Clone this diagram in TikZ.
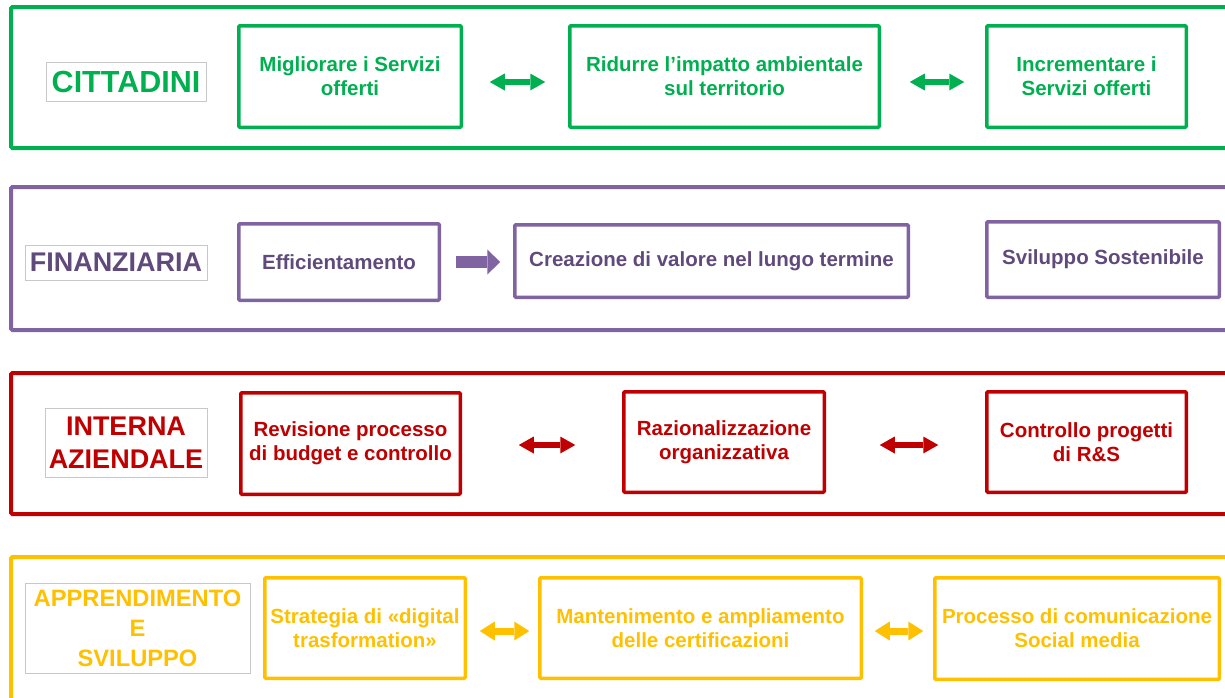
\documentclass[tikz,border=0pt]{standalone}
\usepackage{fontspec}
\setmainfont{Liberation Sans}
\usetikzlibrary{arrows.meta}
\definecolor{cgreen}{HTML}{00B050}
\definecolor{cpurple}{HTML}{8064A2}
\definecolor{cpurpletxt}{HTML}{604A7B}
\definecolor{cred}{HTML}{C00000}
\definecolor{cyellow}{HTML}{FFC000}
\definecolor{lgray}{HTML}{C8C8C8}
\begin{document}
\begin{tikzpicture}[x=1pt,y=-1pt,
  band/.style={line width=4pt, rounded corners=1.5pt},
  box/.style={draw, line width=3.5pt, rounded corners=1pt, align=center, inner sep=0pt,
    font=\bfseries\fontsize{20.5}{24}\selectfont},
  lbl/.style={draw=lgray, line width=0.9pt, align=center, inner sep=0pt},
  dblarrow/.style={line width=6pt,
    {Triangle[width=17pt,length=15pt,line width=0pt]}-{Triangle[width=17pt,length=15pt,line width=0pt]}},
  dblarrowy/.style={line width=7pt,
    {Triangle[width=19pt,length=15pt,line width=0pt]}-{Triangle[width=19pt,length=15pt,line width=0pt]}},
  blockarrow/.style={line width=12pt, -{Triangle[width=25pt,length=13pt,line width=0pt]}}
]
\useasboundingbox (0,0) rectangle (1225,697);
\clip (0,0) rectangle (1225,697);

% bands
\draw[band, cgreen] (11,7) rectangle (1240,148);
\draw[band, cpurple] (11,187) rectangle (1240,330);
\draw[band, cred] (11,373) rectangle (1240,514);
\draw[band, cyellow] (11,557) rectangle (1240,720);

% labels
\node[lbl, minimum width=160pt, minimum height=39pt, text=cgreen,
  font=\bfseries\fontsize{30.5}{33}\selectfont] (l1) at (126,81.5) {CITTADINI};
\node[lbl, minimum width=182pt, minimum height=35pt, text=cpurpletxt,
  font=\bfseries\fontsize{27}{30}\selectfont] (l2) at (116,262.5) {FINANZIARIA};
\node[lbl, minimum width=162pt, minimum height=69pt, text=cred,
  font=\bfseries\fontsize{27}{33}\selectfont] (l3) at (126,442.5) {INTERNA\\AZIENDALE};
\node[lbl, minimum width=225pt, minimum height=90pt, text=cyellow,
  font=\bfseries\fontsize{23.7}{30}\selectfont] (l4) at (137.5,628) {APPRENDIMENTO\\E\\SVILUPPO};

% row 1
\node[box, draw=cgreen, text=cgreen, minimum width=222.5pt, minimum height=101.5pt] (a1) at (350,76.5) {Migliorare i Servizi\\offerti};
\node[box, draw=cgreen, text=cgreen, minimum width=309.5pt, minimum height=101.5pt] (b1) at (724.5,76.5) {Ridurre l’impatto ambientale\\sul territorio};
\node[box, draw=cgreen, text=cgreen, minimum width=199.5pt, minimum height=101.5pt] (c1) at (1086.5,76.5) {Incrementare i\\Servizi offerti};

% row 2
\node[box, draw=cpurple, text=cpurpletxt, minimum width=200.5pt, minimum height=76.5pt] (a2) at (339,262) {Efficientamento};
\node[box, draw=cpurple, text=cpurpletxt, minimum width=393.5pt, minimum height=72.5pt] (b2) at (711.5,261) {Creazione di valore nel lungo termine};
\node[box, draw=cpurple, text=cpurpletxt, minimum width=232.5pt, minimum height=75.5pt] (c2) at (1103,259.5) {Sviluppo Sostenibile};

% row 3
\node[box, draw=cred, text=cred, minimum width=219.5pt, minimum height=101.5pt] (a3) at (350.5,443.5) {Revisione processo\\di budget e controllo};
\node[box, draw=cred, text=cred, minimum width=200.5pt, minimum height=100.5pt] (b3) at (724,442) {Razionalizzazione\\organizzativa};
\node[box, draw=cred, text=cred, minimum width=199.5pt, minimum height=100.5pt] (c3) at (1086.5,442) {Controllo progetti\\di R\&S};

% row 4
\node[box, draw=cyellow, text=cyellow, minimum width=200.5pt, minimum height=100.5pt] (a4) at (365,628) {Strategia di «digital\\trasformation»};
\node[box, draw=cyellow, text=cyellow, minimum width=321.5pt, minimum height=100.5pt] (b4) at (700.5,628) {Mantenimento e ampliamento\\delle certificazioni};
\node[box, draw=cyellow, text=cyellow, minimum width=284.5pt, minimum height=101.5pt] (c4) at (1077,628.5) {Processo di comunicazione\\Social media};

% arrows
\draw[dblarrow, cgreen, shorten <=26.75pt, shorten >=22.75pt] ([yshift=-5.5pt]a1.east) -- ([yshift=-5.5pt]b1.west);
\draw[dblarrow, cgreen, shorten <=28.75pt, shorten >=20.75pt] ([yshift=-5.5pt]b1.east) -- ([yshift=-5.5pt]c1.west);
\draw[blockarrow, cpurple, shorten <=14.75pt, shorten >=12.75pt] (a2.east) -- (a2.east -| b2.west);
\draw[dblarrow, cred, shorten <=56.75pt, shorten >=46.75pt] ([yshift=-1.5pt]a3.east) -- ([yshift=-1.5pt]a3.east -| b3.west);
\draw[dblarrow, cred, shorten <=53.75pt, shorten >=46.75pt] ([yshift=-3pt]b3.east) -- ([yshift=-3pt]c3.west);
\draw[dblarrowy, cyellow, shorten <=12.75pt, shorten >=8.75pt] ([yshift=-3pt]a4.east) -- ([yshift=-3pt]b4.west);
\draw[dblarrowy, cyellow, shorten <=11.75pt, shorten >=9.75pt] ([yshift=-3pt]b4.east) -- ([yshift=-3pt]b4.east -| c4.west);
\end{tikzpicture}
\end{document}
